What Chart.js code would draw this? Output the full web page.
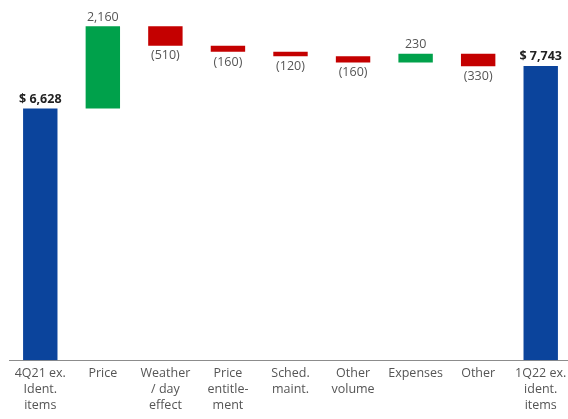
<!DOCTYPE html>
<html>
<head>
<meta charset="utf-8">
<script src="https://cdn.jsdelivr.net/npm/chart.js@4"></script>
<style>
  html, body { margin: 0; padding: 0; background: #fff; overflow: hidden; }
  #wrap { width: 572px; height: 419px; }
</style>
</head>
<body>
<div id="wrap"><canvas id="chart"></canvas></div>
<script>
// ===== DATA =====
const categories = [
    ["4Q21 ex.", "Ident.", "items"],
    ["Price"],
    ["Weather", "/ day", "effect"],
    ["Price", "entitle-", "ment"],
    ["Sched.", "maint."],
    ["Other", "volume"],
    ["Expenses"],
    ["Other"],
    ["1Q22 ex.", "ident.", "items"]
];
const values = [6628, 2160, -510, -160, -120, -160, 230, -330, 7743];
const isTotal = [true, false, false, false, false, false, false, false, true];

// build floating ranges from a running total
let running = 0;
const ranges = values.map((v, i) => {
    if (isTotal[i]) { running = v; return [0, v]; }
    let start = running;
    running += v;
    return [Math.min(start, running), Math.max(start, running)];
});
const colors = values.map((v, i) => isTotal[i] ? "#0b449c" : (v >= 0 ? "#00a14b" : "#c40000"));

function fmt(v, total) {
    let s = Math.abs(v).toLocaleString("en-US");
    if (total) return "$ " + s;
    return v < 0 ? "(" + s + ")" : s;
}

// ===== VALUE LABELS =====
const valueLabels = {
    id: "valueLabels",
    afterDatasetsDraw(chart) {
        const ctx = chart.ctx;
        chart.getDatasetMeta(0).data.forEach((bar, i) => {
            let top = Math.min(bar.y, bar.base);
            let bottom = Math.max(bar.y, bar.base);
            ctx.save();
            ctx.textAlign = "center";
            if (isTotal[i]) {
                ctx.font = "bold 12.5px 'Open Sans'";
                ctx.fillStyle = "#222";
                ctx.textBaseline = "bottom";
                ctx.fillText(fmt(values[i], true), bar.x, top - 3);
            } else if (values[i] >= 0) {
                ctx.font = "12.5px 'Open Sans'";
                ctx.fillStyle = "#555";
                ctx.textBaseline = "bottom";
                ctx.fillText(fmt(values[i]), bar.x, top - 3);
            } else {
                ctx.font = "12.5px 'Open Sans'";
                ctx.fillStyle = "#555";
                ctx.textBaseline = "top";
                ctx.fillText(fmt(values[i]), bar.x, bottom + 4);
            }
            ctx.restore();
        });
    }
};

new Chart(document.getElementById("chart"), {
    type: "bar",
    data: {
        labels: categories,
        datasets: [{
            data: ranges,
            backgroundColor: colors,
            borderWidth: 0,
            barPercentage: 0.55,
            categoryPercentage: 1
        }]
    },
    options: {
        responsive: true,
        maintainAspectRatio: false,
        animation: false,
        layout: { padding: { left: 9, right: 0, top: 0, bottom: 0 } },
        plugins: {
            legend: { display: false },
            tooltip: { enabled: false }
        },
        scales: {
            y: { display: false, min: 0, max: 9480 },
            x: {
                grid: { display: false, drawTicks: false, tickLength: 0 },
                border: { display: true, color: "#8c8c8c", width: 1 },
                ticks: {
                    color: "#555",
                    font: { family: "'Open Sans'", size: 12.5, lineHeight: 1.3 },
                    padding: 5,
                    maxRotation: 0,
                    autoSkip: false
                }
            }
        }
    },
    plugins: [valueLabels]
});
</script>
</body>
</html>
